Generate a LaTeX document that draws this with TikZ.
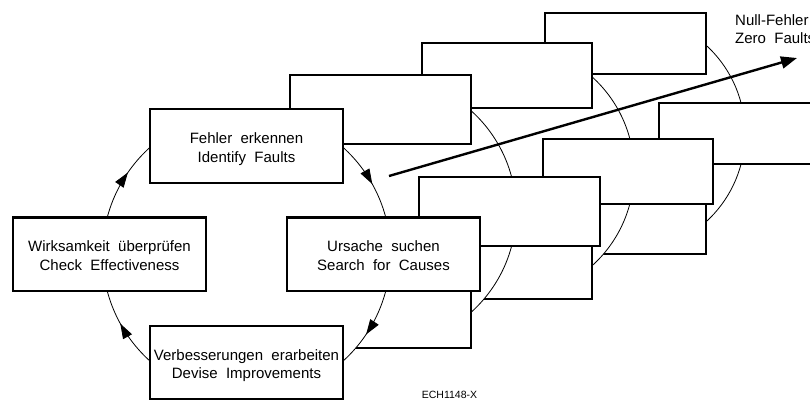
\documentclass[tikz,border=0pt]{standalone}
\usepackage{fontspec}
\setmainfont{Liberation Sans}[WordSpace=2]
\usetikzlibrary{arrows.meta,decorations.markings}
\newcommand\twolines[2]{\rule{0pt}{17pt}#1\\#2\rule[-3.5pt]{0pt}{3.5pt}}
\begin{document}
\begin{tikzpicture}[x=1pt,y=1pt,
  arcline/.style={line width=0.8pt},
  stepbox/.style={draw, line width=2.4pt, fill=white, minimum width=193pt,
    minimum height=73.5pt, inner sep=0pt, outer sep=0pt, align=center,
    font=\fontsize{15}{18.5}\selectfont},
  ghostcycle/.pic={
    \fill[white] (0,0) circle (144);
    \draw[arcline] (0,0) circle (144);
    \foreach \cx/\cy in {0/108.2, 137/0, 0/-108.3, -137/0}
      \filldraw[fill=white, line width=2pt]
        (\cx-96.5,\cy-36.75) rectangle (\cx+96.5,\cy+36.75);
  }
]
\useasboundingbox (0,0) rectangle (810,-402);
\clip (0,0) rectangle (810,-402);
% ghost cycles, back to front
\pic[scale=0.8306] at (625.4,-133.5) {ghostcycle};
\pic[scale=0.8836] at (506.8,-171.3) {ghostcycle};
\pic[scale=0.94] at (380.7,-211.5) {ghostcycle};
% main cycle
\coordinate (c0) at (246.5,-254.2);
\fill[white] (c0) circle (144);
\draw[arcline, postaction={decorate}, decoration={markings,
    mark=at position 0.094 with {\arrow[line width=0.8pt]{Triangle[length=15pt,width=10pt]}},
    mark=at position 0.42 with {\arrow[line width=0.8pt]{Triangle[length=15pt,width=10pt]}},
    mark=at position 0.596 with {\arrow[line width=0.8pt]{Triangle[length=15pt,width=10pt]}},
    mark=at position 0.919 with {\arrow[line width=0.8pt]{Triangle[length=15pt,width=10pt]}}}]
  (c0) ++(0:144) arc[start angle=360, end angle=0, radius=144];
\node[stepbox] (fehler) at (246.5,-146) {\twolines{Fehler erkennen}{Identify Faults}};
\node[stepbox] (ursache) at (383.5,-254.2) {\twolines{Ursache suchen}{Search for Causes}};
\node[stepbox] (verb) at (246.5,-362.5) {\twolines{Verbesserungen erarbeiten}{Devise Improvements}};
\node[stepbox] (wirk) at (109.5,-254.2) {\twolines{Wirksamkeit überprüfen}{Check Effectiveness}};
% progress arrow
\coordinate (arrs) at (389,-176);
\coordinate (arre) at (797,-58);
\draw[line width=2.4pt, -{Triangle[length=16pt,width=12pt]}] (arrs) -- (arre);
\node[anchor=north west, inner sep=0pt, align=left,
  font=\fontsize{15}{17.6}\selectfont] (zero) at (735,-13.7)
  {\rule{0pt}{12pt}Null-Fehler\\Zero Faults};
\node[anchor=base west, inner sep=0pt, font=\fontsize{10.5}{12}\selectfont]
  (code) at (421.7,-398) {ECH1148-X};
\end{tikzpicture}
\end{document}
